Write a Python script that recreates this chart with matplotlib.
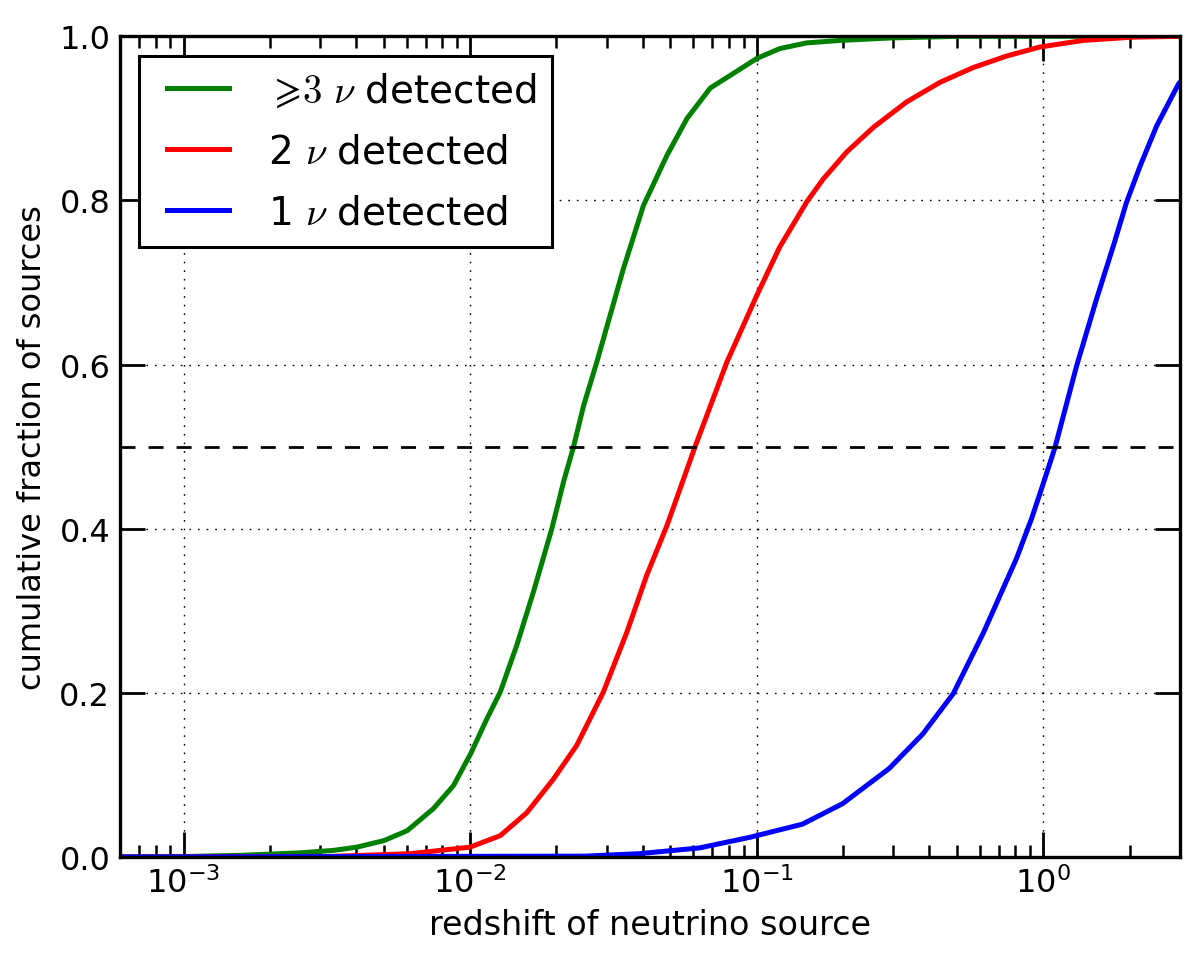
import matplotlib
matplotlib.use("Agg")
import matplotlib.pyplot as plt
from matplotlib.font_manager import FontProperties
from matplotlib.lines import Line2D
from matplotlib.legend_handler import HandlerLine2D

# redshift / cumulative fraction
z_three = [6.0e-4, 1.0e-3, 1.58e-3, 2.55e-3, 3.33e-3, 4.03e-3, 5.01e-3, 6.03e-3,
           7.45e-3, 8.75e-3, 0.01005, 0.01143, 0.01274, 0.01455, 0.01663, 0.01928,
           0.02118, 0.02296, 0.02489, 0.02767, 0.03428, 0.04027, 0.04864, 0.05715,
           0.06887, 0.0875, 0.1, 0.1202, 0.1493, 0.195, 0.2917, 0.5, 3.0]
f_three = [0.0, 0.0005, 0.002, 0.005, 0.008, 0.012, 0.020, 0.032,
           0.059, 0.087, 0.126, 0.168, 0.201, 0.258, 0.323, 0.400,
           0.457, 0.500, 0.550, 0.603, 0.717, 0.794, 0.855, 0.900,
           0.937, 0.960, 0.973, 0.985, 0.992, 0.995, 0.998, 1.0, 1.0]

z_two = [6.0e-4, 3.16e-3, 6.18e-3, 0.01, 0.01274, 0.01578, 0.01954, 0.02355,
         0.02917, 0.03524, 0.04130, 0.04864, 0.06095, 0.07870, 0.1, 0.1202,
         0.1493, 0.1706, 0.2061, 0.2553, 0.3334, 0.4365, 0.5702, 0.7447,
         0.9727, 1.377, 2.042, 3.0]
f_two = [0.0, 0.0005, 0.004, 0.012, 0.026, 0.054, 0.095, 0.136,
         0.201, 0.274, 0.343, 0.404, 0.500, 0.603, 0.684, 0.743,
         0.798, 0.826, 0.859, 0.889, 0.920, 0.944, 0.962, 0.976,
         0.987, 0.995, 0.999, 1.0]

z_one = [6.0e-4, 0.0251, 0.0389, 0.0631, 0.0948, 0.1445, 0.1995, 0.2904,
         0.3802, 0.4853, 0.6180, 0.8072, 0.9099, 1.0, 1.099, 1.309,
         1.535, 1.758, 1.954, 2.178, 2.489, 2.965, 3.0]
f_one = [0.0, 0.001, 0.004, 0.011, 0.024, 0.040, 0.065, 0.108,
         0.150, 0.199, 0.273, 0.364, 0.412, 0.455, 0.499, 0.599,
         0.680, 0.745, 0.798, 0.842, 0.891, 0.942, 0.944]

labels = [r"$\geqslant\!3\ \nu$ detected", r"2 $\nu$ detected", r"1 $\nu$ detected"]
colors = ["#008000", "#ff0000", "#0000ff"]

plt.rcParams["font.family"] = ["DejaVu Sans"]
plt.rcParams["lines.scale_dashes"] = False

fig = plt.figure(figsize=(12, 9.7), dpi=100)
ax = fig.add_axes([0.1, 0.1155, 0.8833, 0.846])

for z, f, lab, c in zip([z_three, z_two, z_one], [f_three, f_two, f_one], labels, colors):
    ax.plot(z, f, color=c, lw=3.6, label=lab)

ax.axhline(0.5, color="black", lw=2, dashes=(10.8, 9.4))

ax.set_xscale("log")
ax.set_xlim(6.0e-4, 3.0)
ax.set_ylim(0, 1)
ax.set_yticks([0.0, 0.2, 0.4, 0.6, 0.8, 1.0])
ax.set_yticklabels(["0.0", "0.2", "0.4", "0.6", "0.8", "1.0"])

ax.grid(True, which="major", color="black", linestyle=(0, (1.2, 5)), lw=1)
ax.tick_params(which="major", direction="in", length=18, width=2, top=True, right=True,
               labelsize=23, pad=7)
ax.tick_params(which="minor", direction="in", length=8.6, width=1.8, top=True, right=True)
for s in ax.spines.values():
    s.set_linewidth(2.4)

ax.set_xlabel("redshift of neutrino source", fontsize=24, labelpad=6)
ax.set_ylabel("cumulative fraction of sources", fontsize=23, labelpad=8)

leg = ax.legend(loc="upper left", prop=FontProperties(size=28, math_fontfamily="cm"),
                fancybox=False, framealpha=1, edgecolor="black",
                handlelength=1.91, handletextpad=1.0, borderpad=0.4, labelspacing=0.58,
                handler_map={Line2D: HandlerLine2D(xpad=0.31)})
leg.get_frame().set_linewidth(2.2)

fig.savefig("out.png", dpi=100)
